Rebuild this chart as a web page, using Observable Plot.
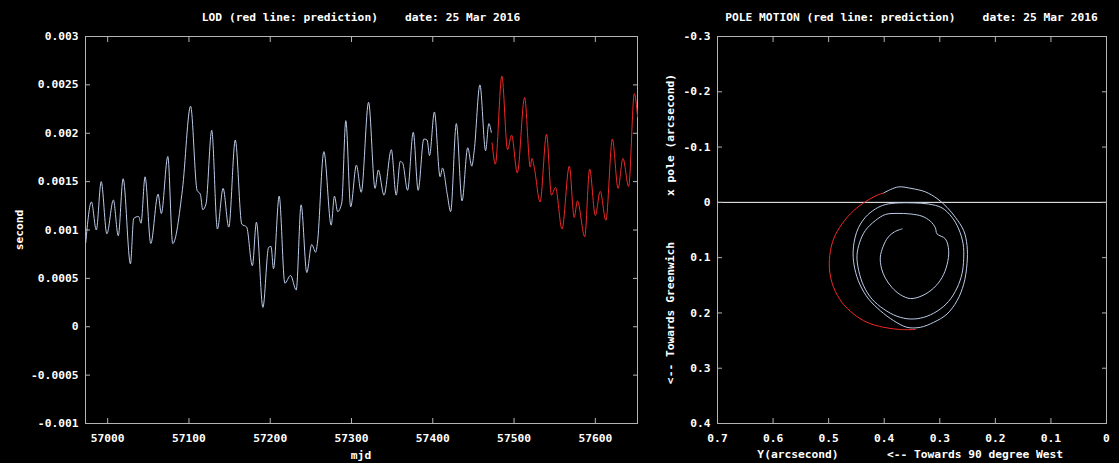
<!DOCTYPE html>
<html><head><meta charset="utf-8">
<script src="https://cdn.jsdelivr.net/npm/d3@7"></script>
<script src="https://cdn.jsdelivr.net/npm/@observablehq/plot@0.6"></script>
<style>
html,body{margin:0;padding:0;background:#000;}
#wrap{position:relative;width:1119px;height:463px;background:#000;overflow:hidden;font-family:"DejaVu Sans Mono",monospace;font-weight:bold;font-size:11.25px;color:#fff;}
.p{position:absolute;top:0;}
.t{position:absolute;white-space:pre;transform:translate(-50%,-50%);line-height:1;}
.r{transform:translate(-50%,-50%) rotate(-90deg);}
</style></head><body><div id="wrap"></div>
<script>
// ---- LOD (observed, blue) ----
const lodObsMjd = [
  56973, 56980, 56986, 56992, 56999, 57007, 57013, 57019, 57028, 57032,
  57038, 57041, 57046, 57053, 57062, 57066, 57074, 57080, 57092, 57102,
  57110, 57114, 57117, 57121, 57128, 57135, 57142, 57149, 57157, 57165,
  57171, 57178, 57183, 57191, 57198, 57201, 57204, 57211, 57218, 57225,
  57232, 57238, 57245, 57251, 57256, 57258, 57266, 57275, 57279, 57283,
  57288, 57293, 57299, 57306, 57312, 57321, 57329, 57333, 57340, 57349,
  57355, 57360, 57363, 57369, 57376, 57382, 57389, 57393, 57396, 57402,
  57409, 57412, 57418, 57422, 57429, 57436, 57443, 57448, 57451, 57458,
  57465, 57469, 57472
];
const lodObsSec = [
  0.00087, 0.00129, 0.00100, 0.00150, 0.00096, 0.00131, 0.00094, 0.00153, 0.00065, 0.00112,
  0.00114, 0.00107, 0.00155, 0.00086, 0.00137, 0.00117, 0.00176, 0.00086, 0.00142, 0.00228,
  0.00141, 0.00137, 0.00121, 0.00127, 0.00203, 0.00101, 0.00143, 0.00103, 0.00193, 0.00106,
  0.00103, 0.00063, 0.00108, 0.00020, 0.00082, 0.00083, 0.00060, 0.00135, 0.00045, 0.00053,
  0.00038, 0.00126, 0.00056, 0.00085, 0.00077, 0.00086, 0.00181, 0.00105, 0.00135, 0.00119,
  0.00128, 0.00213, 0.00124, 0.00167, 0.00139, 0.00232, 0.00143, 0.00162, 0.00136, 0.00183,
  0.00136, 0.00171, 0.00169, 0.00141, 0.00201, 0.00141, 0.00194, 0.00193, 0.00177, 0.00222,
  0.00155, 0.00164, 0.00136, 0.00119, 0.00210, 0.00130, 0.00185, 0.00166, 0.00182, 0.00250,
  0.00182, 0.00210, 0.00201
];
// ---- LOD (prediction, red) ----
const lodPredMjd = [
  57473, 57477, 57485, 57492, 57497, 57504, 57513, 57520, 57522, 57525,
  57532, 57540, 57546, 57551, 57559, 57568, 57574, 57578, 57587, 57593,
  57600, 57606, 57613, 57621, 57628, 57634, 57641, 57648, 57652
];
const lodPredSec = [
  0.00190, 0.00168, 0.00259, 0.00183, 0.00198, 0.00159, 0.00237, 0.00165, 0.00174, 0.00164,
  0.00129, 0.00199, 0.00136, 0.00144, 0.00101, 0.00166, 0.00113, 0.00130, 0.00093, 0.00163,
  0.00115, 0.00140, 0.00110, 0.00194, 0.00143, 0.00174, 0.00145, 0.00241, 0.00217
];
// ---- Pole motion (observed, blue): Y (arcsec) and x (arcsec) ----
const poleObsY = [
  0.368, 0.381, 0.393, 0.402, 0.407, 0.405, 0.398, 0.386, 0.371, 0.353,
  0.332, 0.311, 0.296, 0.287, 0.284, 0.290, 0.305, 0.308, 0.317, 0.332,
  0.353, 0.377, 0.398,
  0.416, 0.434, 0.444, 0.449, 0.446, 0.437, 0.422, 0.401, 0.377, 0.353,
  0.329, 0.305, 0.284, 0.269, 0.260, 0.257, 0.258, 0.266, 0.278, 0.296,
  0.320, 0.347, 0.374, 0.398, 0.416,
  0.434, 0.446, 0.453, 0.456, 0.453, 0.444, 0.428, 0.407, 0.383, 0.359,
  0.335, 0.311, 0.287, 0.269, 0.257, 0.251, 0.251, 0.257, 0.272, 0.287,
  0.305, 0.326, 0.350, 0.374, 0.389, 0.401
];
const poleObsX = [
  0.048, 0.053, 0.063, 0.080, 0.099, 0.119, 0.137, 0.154, 0.167, 0.174,
  0.169, 0.155, 0.136, 0.113, 0.087, 0.066, 0.057, 0.046, 0.034, 0.025,
  0.021, 0.020, 0.022,
  0.033, 0.051, 0.072, 0.096, 0.123, 0.151, 0.175, 0.193, 0.206, 0.211,
  0.208, 0.197, 0.179, 0.155, 0.129, 0.102, 0.075, 0.048, 0.027, 0.010,
  0.003, 0.001, 0.001, 0.004, 0.012,
  0.027, 0.045, 0.066, 0.093, 0.120, 0.148, 0.175, 0.196, 0.214, 0.226,
  0.226, 0.217, 0.202, 0.178, 0.148, 0.111, 0.078, 0.051, 0.027, 0.009,
  -0.007, -0.019, -0.025, -0.028, -0.023, -0.017
];
// ---- Pole motion (prediction, red) ----
const polePredY = [0.401, 0.410, 0.431, 0.455, 0.476, 0.491, 0.498, 0.498, 0.491, 0.476, 0.455, 0.431, 0.401, 0.371, 0.344];
const polePredX = [-0.017, -0.014, -0.003, 0.015, 0.039, 0.066, 0.096, 0.126, 0.154, 0.181, 0.202, 0.217, 0.226, 0.230, 0.230];

// ---- ticks ----
const lodXTicks = [57000, 57100, 57200, 57300, 57400, 57500, 57600];
const lodYTicks = [-0.001, -0.0005, 0, 0.0005, 0.001, 0.0015, 0.002, 0.0025, 0.003];
const poleYTicks = [0.7, 0.6, 0.5, 0.4, 0.3, 0.2, 0.1, 0];
const poleXTicks = [-0.3, -0.2, -0.1, 0, 0.1, 0.2, 0.3, 0.4];
const zeroLine = [0];

const lodObs = lodObsMjd.map((m, i) => ({mjd: m, sec: lodObsSec[i]}));
const lodPred = lodPredMjd.map((m, i) => ({mjd: m, sec: lodPredSec[i]}));
const poleObs = poleObsY.map((y, i) => ({Y: y, X: poleObsX[i]}));
const polePred = polePredY.map((y, i) => ({Y: y, X: polePredX[i]}));

const BLUE = "#bccbe8", RED = "#f02828", FRAME = "#b4b4b4";
const style = {background: "#000", color: "#fff", fontFamily: "'DejaVu Sans Mono', monospace", fontWeight: "bold", fontSize: "11.25px", overflow: "visible"};
const fmt = d => String(d);

const lodPlot = Plot.plot({
  width: 650, height: 463,
  marginLeft: 85, marginRight: 13, marginTop: 36, marginBottom: 40,
  style,
  x: {domain: [56972.7, 57651.9]},
  y: {domain: [-0.001, 0.003]},
  marks: [
    Plot.frame({stroke: FRAME}),
    Plot.axisY({ticks: lodYTicks, tickSize: -5, tickPadding: 12, tickFormat: fmt, label: null, stroke: FRAME}),
    Plot.axisY({anchor: "right", ticks: lodYTicks, tickSize: -5, tickFormat: () => "", label: null, stroke: FRAME}),
    Plot.axisX({ticks: lodXTicks, tickSize: -5, tickPadding: 15, tickFormat: fmt, label: null, stroke: FRAME}),
    Plot.axisX({anchor: "top", ticks: lodXTicks, tickSize: -5, tickFormat: () => "", label: null, stroke: FRAME}),
    Plot.line(lodObs, {x: "mjd", y: "sec", stroke: BLUE, strokeWidth: 1, curve: "monotone-x"}),
    Plot.line(lodPred, {x: "mjd", y: "sec", stroke: RED, strokeWidth: 1, curve: "monotone-x"})
  ]
});

const polePlot = Plot.plot({
  width: 469, height: 463,
  marginLeft: 67, marginRight: 13, marginTop: 36, marginBottom: 40,
  style,
  x: {domain: [0, 0.7], reverse: true},
  y: {domain: [-0.3, 0.4], reverse: true},
  marks: [
    Plot.frame({stroke: FRAME}),
    Plot.ruleY(zeroLine, {stroke: "#ffffff", strokeWidth: 1}),
    Plot.axisY({ticks: poleXTicks, tickSize: -5, tickPadding: 12, tickFormat: fmt, label: null, stroke: FRAME}),
    Plot.axisY({anchor: "right", ticks: poleXTicks, tickSize: -5, tickFormat: () => "", label: null, stroke: FRAME}),
    Plot.axisX({ticks: poleYTicks, tickSize: -5, tickPadding: 15, tickFormat: fmt, label: null, stroke: FRAME}),
    Plot.axisX({anchor: "top", ticks: poleYTicks, tickSize: -5, tickFormat: () => "", label: null, stroke: FRAME}),
    Plot.line(poleObs, {x: "Y", y: "X", stroke: BLUE, strokeWidth: 1, curve: "catmull-rom"}),
    Plot.line(polePred, {x: "Y", y: "X", stroke: RED, strokeWidth: 1, curve: "catmull-rom"})
  ]
});

const wrap = document.getElementById("wrap");
lodPlot.classList.add("p"); lodPlot.style.left = "0px";
polePlot.classList.add("p"); polePlot.style.left = "650px";
wrap.appendChild(lodPlot);
wrap.appendChild(polePlot);

const labels = [
  {text: "LOD (red line: prediction)    date: 25 Mar 2016", x: 361, y: 17.5},
  {text: "POLE MOTION (red line: prediction)    date: 25 Mar 2016", x: 911.5, y: 17.5},
  {text: "second", x: 19.5, y: 230, rot: true},
  {text: "mjd", x: 361, y: 456},
  {text: "x pole (arcsecond)", x: 671, y: 135, rot: true},
  {text: "<-- Towards Greenwich", x: 671, y: 313, rot: true},
  {text: "Y(arcsecond)", x: 798, y: 455},
  {text: "<-- Towards 90 degree West", x: 975, y: 455}
];
for (const l of labels) {
  const d = document.createElement("div");
  d.className = "t" + (l.rot ? " r" : "");
  d.textContent = l.text;
  d.style.left = l.x + "px";
  d.style.top = l.y + "px";
  wrap.appendChild(d);
}
</script>
</body></html>
